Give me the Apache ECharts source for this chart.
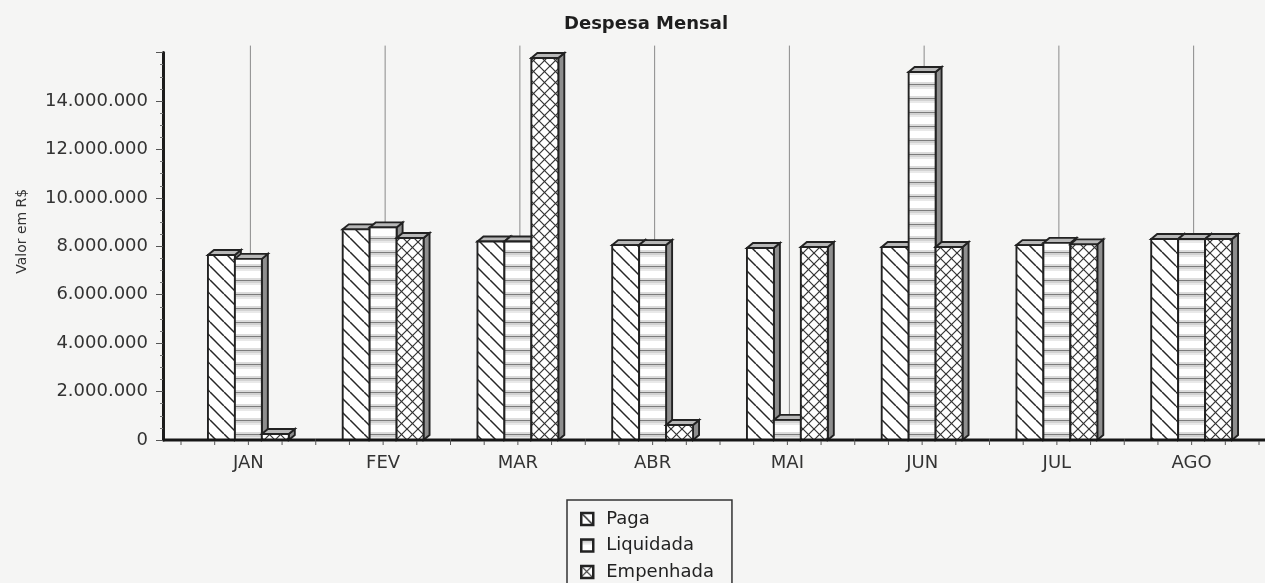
<!DOCTYPE html>
<html>
<head>
<meta charset="utf-8">
<script src="https://cdn.jsdelivr.net/npm/echarts@6/dist/echarts.min.js"></script>
<style>
html,body{margin:0;padding:0;background:#f5f5f4;}
#chart{width:1265px;height:583px;}
</style>
</head>
<body>
<div id="chart"></div>
<script>
// ---- data ----
const categories = ['JAN','FEV','MAR','ABR','MAI','JUN','JUL','AGO'];
const paga      = [7640000, 8700000, 8200000, 8050000, 7930000, 7970000, 8050000, 8300000];
const liquidada = [7480000, 8780000, 8200000, 8050000,  830000, 15200000, 8140000, 8300000];
const empenhada = [ 250000, 8340000, 15780000, 620000, 7970000, 7970000, 8080000, 8300000];
const seriesNames = ['Paga','Liquidada','Empenhada'];
const yTicks = {min: 0, max: 16000000, interval: 2000000};
const chartTitle = 'Despesa Mensal';
const yAxisName = 'Valor em R$';

// ---- patterns ----
function tile(w, h, draw) {
  const c = document.createElement('canvas');
  c.width = w; c.height = h;
  const g = c.getContext('2d');
  g.fillStyle = '#ffffff'; g.fillRect(0, 0, w, h);
  draw(g, w, h);
  return {image: c, repeat: 'repeat'};
}
const patPaga = tile(14, 14, (g, w, h) => {
  g.strokeStyle = '#262626'; g.lineWidth = 1.5;
  for (const o of [-w, 0, w]) { g.beginPath(); g.moveTo(o, 0); g.lineTo(o + w, h); g.stroke(); }
});
const patLiq = tile(4, 14, (g, w, h) => {
  g.fillStyle = '#7c7c7c'; g.fillRect(0, 0, w, 1);
  g.fillStyle = '#d2d2d2'; g.fillRect(0, 1, w, 2);
  g.fillStyle = '#e9e9e9'; g.fillRect(0, 3, w, 2);
  g.fillStyle = '#dcdcdc'; g.fillRect(0, h - 2, w, 2);
});
const patEmp = tile(11, 11, (g, w, h) => {
  g.strokeStyle = '#333333'; g.lineWidth = 1.2;
  for (const o of [-w, 0, w]) {
    g.beginPath(); g.moveTo(o, 0); g.lineTo(o + w, h); g.stroke();
    g.beginPath(); g.moveTo(o, h); g.lineTo(o + w, 0); g.stroke();
  }
});
const patterns = [patPaga, patLiq, patEmp];

const FONT = 'DejaVu Sans';
const Y_OFFSET = 18;
const DX = 6, DY = 5;
const EDGE = '#222222';

function fmt(v) {
  if (v === yTicks.max) return '';
  return String(v).replace(/\B(?=(\d{3})+(?!\d))/g, '.');
}

function barSeries(k, values) {
  return {
    type: 'custom', name: seriesNames[k], z: 2,
    data: values.map((v, i) => [i, v]),
    encode: {x: 0, y: 1},
    itemStyle: {color: patterns[k], borderColor: EDGE, borderWidth: 2},
    renderItem(params, api) {
      const i = api.value(0), v = api.value(1);
      const top = api.coord([i, v]);
      const base = api.coord([i, 0]);
      const band = api.size([1, 0])[0];
      const bw = band * 0.2;
      const x0 = top[0] + (k - 1.5) * bw, x1 = x0 + bw;
      const yT = top[1], yB = base[1];
      const line = {stroke: EDGE, lineWidth: 1.9, lineJoin: 'miter'};
      return {type: 'group', children: [
        {type: 'polygon', shape: {points: [[x1, yT], [x1 + DX, yT - DY], [x1 + DX, yB - DY], [x1, yB]]},
         style: Object.assign({fill: '#8e8e8e'}, line)},
        {type: 'polygon', shape: {points: [[x0, yT], [x0 + DX, yT - DY], [x1 + DX, yT - DY], [x1, yT]]},
         style: Object.assign({fill: '#b8b8b8'}, line)},
        {type: 'rect', shape: {x: x0, y: yT, width: bw, height: yB - yT},
         style: Object.assign({fill: patterns[k]}, line)}
      ]};
    }
  };
}

const chart = echarts.init(document.getElementById('chart'), null, {renderer: 'canvas'});
chart.setOption({
  backgroundColor: '#f5f5f4',
  animation: false,
  title: {
    text: chartTitle, left: 559, top: 10,
    textStyle: {fontFamily: FONT, fontWeight: 'bold', fontSize: 18, color: '#1e1e1e'}
  },
  legend: {
    data: seriesNames, orient: 'vertical', left: 567, top: 500, height: 100,
    padding: [10, 18, 24, 13], itemWidth: 12, itemHeight: 12, itemGap: 8.5,
    icon: 'rect', borderColor: '#333', borderWidth: 1.5,
    itemStyle: {borderColor: EDGE, borderWidth: 2.5},
    textStyle: {fontFamily: FONT, fontSize: 18, color: '#222', padding: [0, 0, 0, 8]}
  },
  grid: {left: 181, right: 6, top: 52.6, bottom: 143, containLabel: false},
  xAxis: {
    type: 'category', data: categories, boundaryGap: true,
    axisLine: {show: false}, axisTick: {show: false}, splitLine: {show: false},
    axisLabel: {fontFamily: FONT, fontSize: 18, color: '#333', margin: 14}
  },
  yAxis: {
    type: 'value', min: yTicks.min, max: yTicks.max, interval: yTicks.interval,
    offset: Y_OFFSET,
    name: yAxisName, nameLocation: 'middle', nameGap: 134, nameRotate: 90,
    nameTextStyle: {fontFamily: FONT, fontSize: 14, color: '#333', padding: [0, 0, 0, 30]},
    axisLine: {show: true, lineStyle: {color: '#1c1c1c', width: 3}},
    axisTick: {show: true, length: 7, lineStyle: {color: '#555', width: 1}},
    minorTick: {show: true, splitNumber: 4, length: 3, lineStyle: {color: '#777'}},
    splitLine: {show: false},
    axisLabel: {fontFamily: FONT, fontSize: 18, color: '#333', margin: 15, formatter: fmt}
  },
  series: [
    {
      type: 'custom', name: 'grid-back', z: 1, silent: true,
      data: categories.map((c, i) => [i, 0]), encode: {x: 0, y: 1},
      renderItem(params, api) {
        const i = api.value(0);
        const top = api.coord([i, yTicks.max]);
        const base = api.coord([i, 0]);
        return {type: 'line', shape: {x1: top[0] + 2, y1: top[1] - 7, x2: top[0] + 2, y2: base[1]},
                style: {stroke: '#8a8a8a', lineWidth: 1}};
      }
    },
    barSeries(0, paga),
    barSeries(1, liquidada),
    barSeries(2, empenhada),
    {
      type: 'custom', name: 'axis-front', z: 3, silent: true,
      data: categories.map((c, i) => [i, 0]), encode: {x: 0, y: 1},
      renderItem(params, api) {
        const i = api.value(0);
        const base = api.coord([i, 0]);
        const band = api.size([1, 0])[0];
        const n = categories.length;
        let xa = base[0] - band / 2, xb = base[0] + band / 2;
        if (i === 0) xa -= Y_OFFSET;
        if (i === n - 1) xb += 12;
        const kids = [{type: 'line', shape: {x1: xa, y1: base[1], x2: xb, y2: base[1]},
                       style: {stroke: '#161616', lineWidth: 3}}];
        const qs = i === n - 1 ? [0, 1, 2, 3, 4] : [0, 1, 2, 3];
        for (const q of qs) {
          const x = base[0] + (q / 4 - 0.5) * band;
          kids.push({type: 'line', shape: {x1: x, y1: base[1] + 1, x2: x, y2: base[1] + 5},
                     style: {stroke: '#555', lineWidth: 1}});
        }
        return {type: 'group', children: kids};
      }
    }
  ]
});
</script>
</body>
</html>
